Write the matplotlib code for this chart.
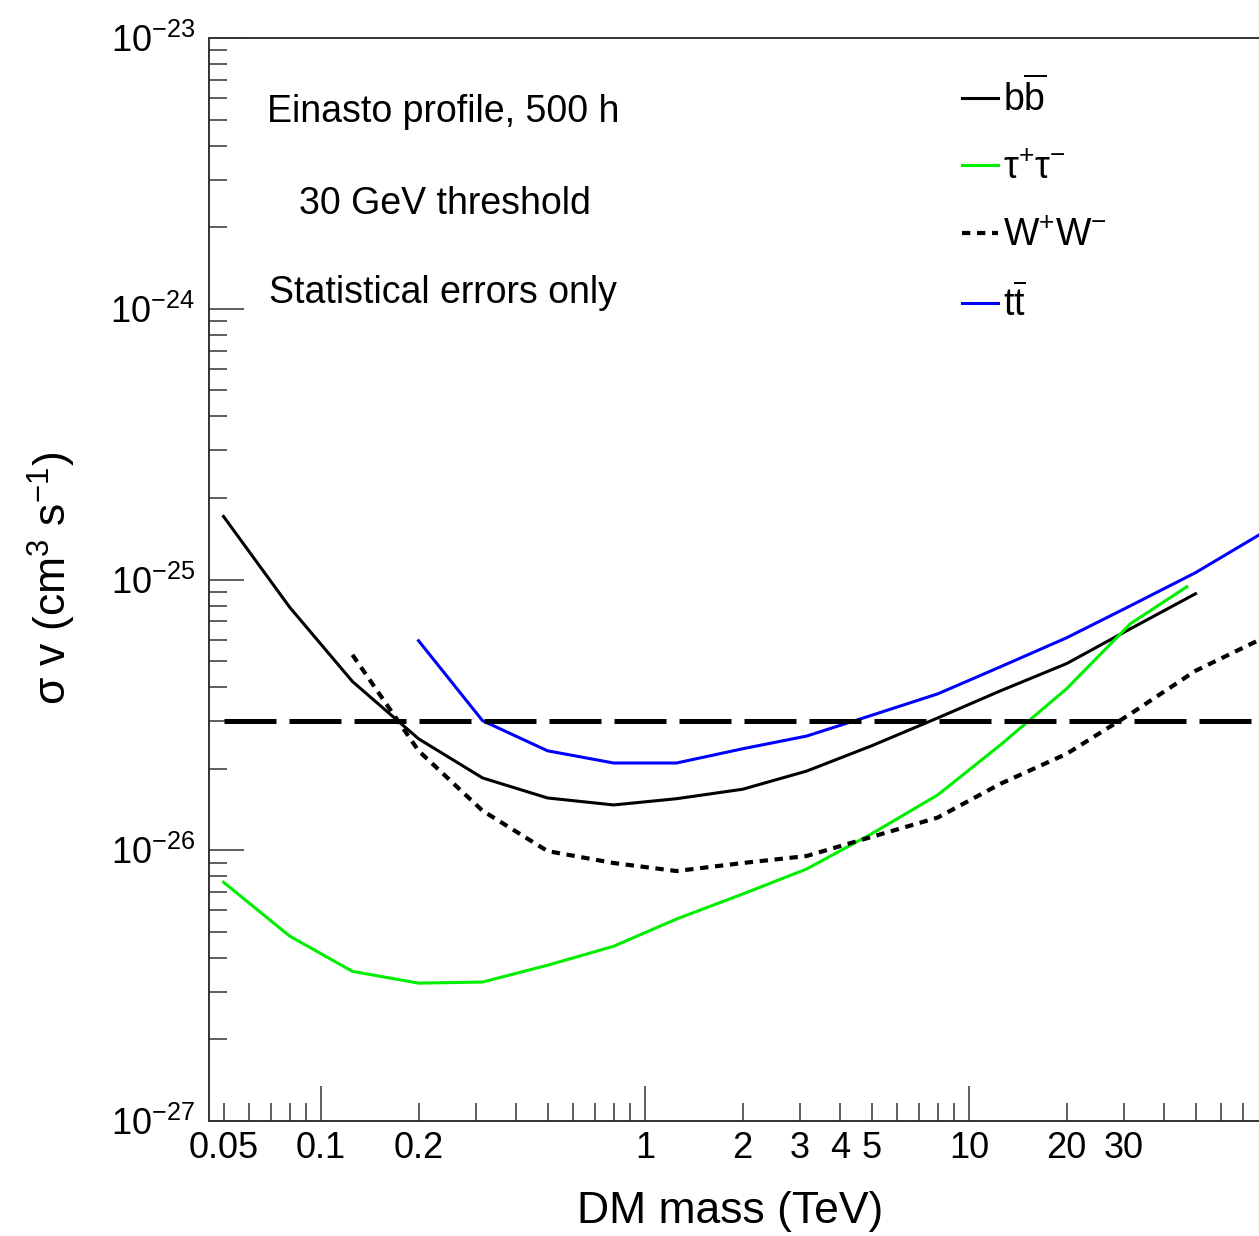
import numpy as np
import matplotlib
matplotlib.use("Agg")
from matplotlib import pyplot as plt
from matplotlib.ticker import LogLocator, FixedLocator, LogFormatterMathtext, FuncFormatter, NullFormatter

plt.rcParams['font.family'] = ['Liberation Sans', 'DejaVu Sans']
plt.rcParams['mathtext.fontset'] = 'custom'
plt.rcParams['mathtext.rm'] = 'Liberation Sans'
plt.rcParams['mathtext.it'] = 'Liberation Sans:italic'
plt.rcParams['mathtext.bf'] = 'Liberation Sans:bold'

# DM mass (TeV) and sigma v limits (cm^3 s^-1)
mass_bb = [0.05, 0.08, 0.125, 0.2, 0.315, 0.5, 0.8, 1.25, 2, 3.15, 5, 8, 12.5, 20, 31.5, 50]
sv_bb = [1.71e-25, 7.9e-26, 4.2e-26, 2.58e-26, 1.85e-26, 1.56e-26, 1.47e-26, 1.55e-26,
         1.68e-26, 1.96e-26, 2.43e-26, 3.08e-26, 3.88e-26, 4.89e-26, 6.58e-26, 8.86e-26]

mass_tau = [0.05, 0.08, 0.125, 0.2, 0.315, 0.5, 0.8, 1.25, 2, 3.15, 5, 8, 12.5, 20, 31.5, 47]
sv_tau = [7.62e-27, 4.82e-27, 3.57e-27, 3.23e-27, 3.26e-27, 3.76e-27, 4.42e-27, 5.57e-27,
          6.89e-27, 8.52e-27, 1.15e-26, 1.60e-26, 2.45e-26, 3.95e-26, 6.87e-26, 9.4e-26]

mass_ww = [0.125, 0.2, 0.315, 0.5, 0.8, 1.25, 2, 3.15, 5, 8, 12.5, 20, 31.5, 50, 80]
sv_ww = [5.27e-26, 2.33e-26, 1.40e-26, 9.93e-27, 8.97e-27, 8.38e-27, 8.97e-27, 9.52e-27,
         1.12e-26, 1.32e-26, 1.76e-26, 2.27e-26, 3.19e-26, 4.6e-26, 6.04e-26]

mass_tt = [0.2, 0.315, 0.5, 0.8, 1.25, 2, 3.15, 5, 8, 12.5, 20, 31.5, 50, 80]
sv_tt = [5.94e-26, 3.01e-26, 2.33e-26, 2.10e-26, 2.10e-26, 2.37e-26, 2.64e-26, 3.15e-26,
         3.78e-26, 4.76e-26, 6.09e-26, 8.0e-26, 1.06e-25, 1.48e-25]

# thermal relic cross section
thermal_mass = [0.05, 100]
thermal_sv = [3e-26, 3e-26]

x_major = [0.1, 1, 10]
x_labelled = [0.05, 0.2, 2, 3, 4, 5, 20, 30]
y_major = [1e-27, 1e-26, 1e-25, 1e-24, 1e-23]

W, H = 1259, 1236
fig = plt.figure(figsize=(W / 100, H / 100), dpi=100)
ax = fig.add_axes([209 / W, 1 - 1121 / H, (W - 209) / W, (1121 - 38) / H])

ax.plot(mass_bb, sv_bb, color='black', lw=2.2, label=r'$\mathrm{b\overline{b}}$')
ax.plot(mass_tau, sv_tau, color='#00ee00', lw=2.2, label=r'$\mathrm{τ^{+}τ^{-}}$')
ax.plot(mass_ww, sv_ww, color='black', lw=3.0, dashes=(2.0, 1.6), label=r'$\mathrm{W^{+}W^{-}}$')
ax.plot(mass_tt, sv_tt, color='#0000ff', lw=2.2, label=r'$\mathrm{t\overline{t}}$')
ax.plot(thermal_mass, thermal_sv, color='black', lw=3.6, dashes=(10.4, 2.6))

ax.set_xscale('log')
ax.set_yscale('log')
ax.set_xlim(0.0451, 78.5)
ax.set_ylim(1e-27, 1e-23)

ax.xaxis.set_major_locator(FixedLocator(x_major))
ax.xaxis.set_minor_locator(LogLocator(base=10, subs=np.arange(2, 10), numticks=20))
ax.xaxis.set_major_formatter(FuncFormatter(lambda v, p: '%g' % v))


def minor_label(v, p):
    for lab in x_labelled:
        if np.isclose(v, lab):
            return '%g' % lab
    return ''


ax.xaxis.set_minor_formatter(FuncFormatter(minor_label))

ax.yaxis.set_major_locator(FixedLocator(y_major))
ax.yaxis.set_minor_locator(LogLocator(base=10, subs=np.arange(2, 10), numticks=20))
ax.yaxis.set_major_formatter(LogFormatterMathtext())
ax.yaxis.set_minor_formatter(NullFormatter())

ax.tick_params(which='both', direction='in', top=False, right=False, width=1.1, color='#333333')
ax.tick_params(which='major', length=25)
ax.tick_params(which='minor', length=13)
ax.tick_params(axis='x', which='both', labelsize=26, pad=7)
ax.tick_params(axis='y', which='both', labelsize=26, pad=10)

ax.spines['right'].set_visible(False)
for s in ['left', 'top', 'bottom']:
    ax.spines[s].set_linewidth(1.4)
    ax.spines[s].set_color('#333333')

fig.text(730 / W, 1 - 1212 / H, 'DM mass (TeV)', fontsize=32, ha='center', va='center')
fig.text(52 / W, 1 - 578 / H, r'σ v (cm$^{3}$ s$^{-1}$)', fontsize=32,
         rotation=90, ha='center', va='center')

fig.text(443 / W, 1 - 122 / H, 'Einasto profile, 500 h', fontsize=27, ha='center', va='baseline')
fig.text(445 / W, 1 - 214 / H, '30 GeV threshold', fontsize=27, ha='center', va='baseline')
fig.text(443 / W, 1 - 303 / H, 'Statistical errors only', fontsize=27, ha='center', va='baseline')

ax.legend(loc='upper left', bbox_to_anchor=(962 / W, 1 - 78 / H), bbox_transform=fig.transFigure,
          frameon=False, fontsize=27, handlelength=0.95, handletextpad=0.15,
          labelspacing=0.83, borderpad=0, borderaxespad=0)

fig.savefig('out.png', dpi=100)
